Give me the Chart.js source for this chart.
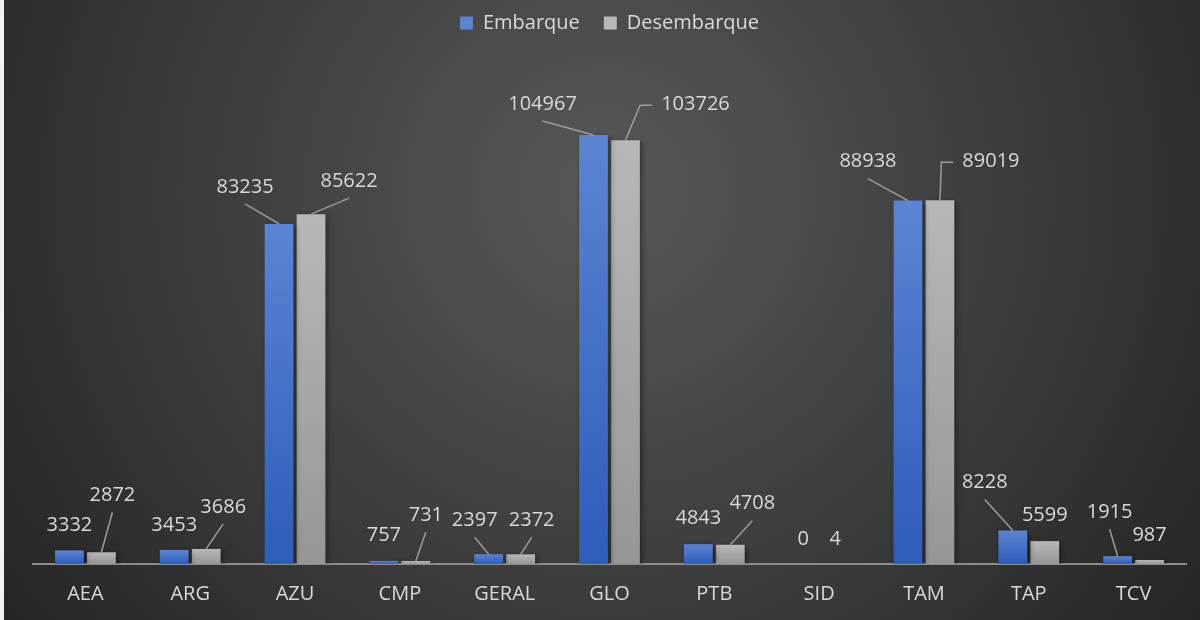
<!DOCTYPE html>
<html>
<head>
<meta charset="utf-8">
<script src="https://cdn.jsdelivr.net/npm/chart.js@4/dist/chart.umd.min.js"></script>
<style>
  html, body { margin: 0; padding: 0; background: #f2f2f2; }
  #wrap { position: absolute; left: 4px; top: 0; width: 1196px; height: 620px; }
</style>
</head>
<body>
<div id="wrap"><canvas id="chart" width="1196" height="620"></canvas></div>
<script>
const categories = ['AEA', 'ARG', 'AZU', 'CMP', 'GERAL', 'GLO', 'PTB', 'SID', 'TAM', 'TAP', 'TCV'];
const embarque = [3332, 3453, 83235, 757, 2397, 104967, 4843, 0, 88938, 8228, 1915];
const desembarque = [2872, 3686, 85622, 731, 2372, 103726, 4708, 4, 89019, 5599, 987];

// where each data label sits relative to its bar top: [dx, dy, leader]
// leader: 0 none, 1 straight line, 2 elbow
const embarqueLabelPos = [[0, -25, 0], [0, -25, 0], [-34, -37, 1], [0, -26, 0], [-14, -34, 1], [-51, -31, 1],
  [0, -26, 0], [0, -25, 0], [-40, -39, 1], [-28, -48, 1], [-8, -44, 1]];
const desembarqueLabelPos = [[11, -57, 1], [17, -42, 1], [38, -33, 1], [10, -46, 1], [11, -34, 1], [70, -36, 2],
  [22, -41, 1], [0, -25, 0], [51, -39, 2], [0, -26, 0], [0, -25, 0]];

const textColor = '#d9d9d9';
Chart.defaults.font.family = '"Open Sans", sans-serif';

function barFill(top, bottom) {
  return (c) => {
    const chart = c.chart;
    if (!chart.chartArea || c.type !== 'data') return bottom;
    const y = chart.scales.y;
    const y0 = y.getPixelForValue(c.raw);
    const y1 = y.getPixelForValue(0);
    if (y1 - y0 < 1) return bottom;
    const g = chart.ctx.createLinearGradient(0, y0, 0, y1);
    g.addColorStop(0, top);
    g.addColorStop(1, bottom);
    return g;
  };
}

const background = {
  id: 'background',
  beforeDraw(chart) {
    const ctx = chart.ctx;
    const g = ctx.createRadialGradient(600, 190, 0, 600, 190, 760);
    g.addColorStop(0, '#585858');
    g.addColorStop(1, '#232323');
    ctx.save();
    ctx.fillStyle = g;
    ctx.fillRect(0, 0, chart.width, chart.height);
    ctx.restore();
  }
};

const barShadow = {
  id: 'barShadow',
  beforeDatasetsDraw(chart) {
    const ctx = chart.ctx;
    ctx.save();
    ctx.shadowColor = 'rgba(0,0,0,0.45)';
    ctx.shadowBlur = 6;
    ctx.shadowOffsetX = 2;
    ctx.shadowOffsetY = 2;
  },
  afterDatasetsDraw(chart) {
    chart.ctx.restore();
  }
};

const barLabels = {
  id: 'barLabels',
  afterDatasetsDraw(chart) {
    const ctx = chart.ctx;
    const positions = [embarqueLabelPos, desembarqueLabelPos];
    ctx.save();
    ctx.font = '20px "Open Sans"';
    ctx.fillStyle = textColor;
    ctx.strokeStyle = '#9c9c9c';
    ctx.lineWidth = 1.5;
    ctx.textAlign = 'center';
    ctx.textBaseline = 'middle';
    chart.data.datasets.forEach((ds, di) => {
      const meta = chart.getDatasetMeta(di);
      meta.data.forEach((bar, i) => {
        const [dx, dy, kind] = positions[di][i];
        const text = String(ds.data[i]);
        const lx = bar.x + dx;
        const ly = bar.y + dy;
        if (kind === 1) {
          ctx.beginPath();
          ctx.moveTo(lx, ly + 17);
          ctx.lineTo(bar.x, bar.y);
          ctx.stroke();
        } else if (kind === 2) {
          const w = ctx.measureText(text).width;
          const sx = lx - w / 2 - 9;
          ctx.beginPath();
          ctx.moveTo(sx, ly + 1);
          ctx.lineTo(sx - 12, ly + 1);
          ctx.lineTo(bar.x, bar.y);
          ctx.stroke();
        }
        ctx.fillText(text, lx, ly);
      });
    });
    ctx.restore();
  }
};

new Chart(document.getElementById('chart'), {
  type: 'bar',
  data: {
    labels: categories,
    datasets: [{
      label: 'Embarque',
      data: embarque,
      backgroundColor: barFill('#5b84d3', '#2d5cba'),
      borderWidth: 0,
      categoryPercentage: 0.61,
      barPercentage: 0.9
    }, {
      label: 'Desembarque',
      data: desembarque,
      backgroundColor: barFill('#b8b8b8', '#969696'),
      borderWidth: 0,
      categoryPercentage: 0.61,
      barPercentage: 0.9
    }]
  },
  options: {
    responsive: false,
    animation: false,
    layout: {
      padding: { left: 29, right: 14, top: -11, bottom: 0 }
    },
    plugins: {
      legend: {
        position: 'top',
        labels: {
          color: textColor,
          font: { size: 20 },
          boxWidth: 13,
          boxHeight: 13,
          padding: 24
        }
      },
      tooltip: { enabled: false }
    },
    scales: {
      x: {
        grid: { display: false, drawTicks: false },
        border: { color: '#8c8c8c', width: 2 },
        ticks: { color: textColor, font: { size: 20 }, padding: 18 },
        afterFit(scale) { scale.height = 56; }
      },
      y: {
        display: false,
        min: 0,
        max: 127500
      }
    }
  },
  plugins: [background, barShadow, barLabels]
});
</script>
</body>
</html>
